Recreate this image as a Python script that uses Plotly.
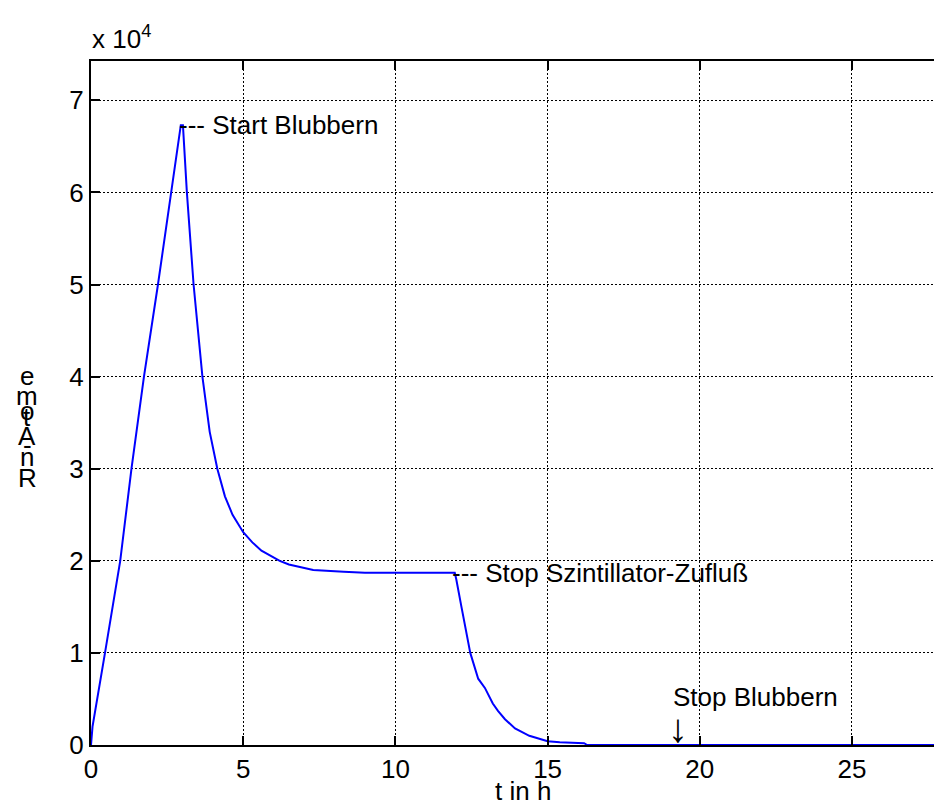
import plotly.graph_objects as go

# ---- data ----
t_hours = [0, 0.05, 0.46, 0.96, 1.33, 1.74, 2.2, 2.62, 2.95, 3.02, 3.15, 3.37,
           3.66, 3.9, 4.15, 4.4, 4.65, 5.0, 5.3, 5.6, 6.2, 6.5, 6.9, 7.3, 8.3,
           9.0, 11.95, 12.0, 12.17, 12.46, 12.72, 12.94, 13.2, 13.37, 13.6,
           13.93, 14.4, 15.0, 15.4, 16.2, 16.3, 28.3]
rn_atoms = [0, 2000, 10000, 20000, 30000, 40000, 50000, 60000, 67300, 67300,
            60000, 50000, 40000, 34000, 30000, 27000, 25000, 23100, 22000,
            21100, 20000, 19600, 19300, 19000, 18800, 18700, 18700, 18000,
            15000, 10000, 7200, 6200, 4500, 3700, 2800, 1800, 1000, 400, 300,
            200, 0, 0]
x_ticks = [0, 5, 10, 15, 20, 25]
y_ticks = [0, 10000, 20000, 30000, 40000, 50000, 60000, 70000]
y_tick_labels = ["0", "1", "2", "3", "4", "5", "6", "7"]
ylabel_text = "Rn-Atome"
ann_start = ("--- Start Blubbern", 3.02, 67300)
ann_stopzu = ("--- Stop Szintillator-Zufluß", 11.99, 18700)
ann_stopblub = ("Stop Blubbern", 19.05, 5200)
ann_arrow = ("↓", 19.28, 1800)

# ---- layout geometry (pixels) ----
W, H = 942, 805
L, R, T, B = 83, 0, 53, 68
PW, PH = W - L - R, H - T - B
FONT = "Liberation Sans, Arial, Helvetica, sans-serif"
FS = 26


def px_to_paper(px, py):
    return (px - L) / PW, (H - B - py) / PH


fig = go.Figure()
fig.add_trace(go.Scatter(x=t_hours, y=rn_atoms, mode="lines",
                         line=dict(color="#0000ff", width=2),
                         showlegend=False, hoverinfo="skip"))

axis_common = dict(showline=True, linecolor="black", linewidth=2,
                   ticks="inside", ticklen=9, tickwidth=2, tickcolor="black",
                   showgrid=True, gridcolor="black", gridwidth=1,
                   griddash="2px,2px", zeroline=False,
                   tickfont=dict(family=FONT, size=FS, color="black"))

fig.update_layout(
    width=W, height=H,
    margin=dict(l=L, r=R, t=T, b=B, pad=0),
    paper_bgcolor="white", plot_bgcolor="white",
    xaxis=dict(range=[0, 28.22], tickvals=x_ticks, mirror="ticks",
               **axis_common),
    yaxis=dict(range=[0, 74270], tickvals=y_ticks, ticktext=y_tick_labels,
               mirror=False, **axis_common),
    font=dict(family=FONT, size=FS, color="black"),
)

for text, x, y in (ann_start, ann_stopzu, ann_stopblub):
    fig.add_annotation(x=x, y=y, xref="x", yref="y", text=text,
                       showarrow=False, xanchor="left", yanchor="middle",
                       xshift=-6 if text.startswith("---") else 0,
                       font=dict(family=FONT, size=FS, color="black"))
fig.add_annotation(x=ann_arrow[1], y=ann_arrow[2], xref="x", yref="y",
                   text=ann_arrow[0], showarrow=False, xanchor="center",
                   yanchor="middle",
                   font=dict(family=FONT, size=40, color="black"))

# exponent label
ex, ey = px_to_paper(82, 30)
fig.add_annotation(x=ex, y=ey, xref="paper", yref="paper",
                   text="x 10<sup>4</sup>", showarrow=False,
                   xanchor="left", yanchor="middle",
                   font=dict(family=FONT, size=FS, color="black"))

# x-axis title
tx, ty = px_to_paper(515, 783)
fig.add_annotation(x=tx, y=ty, xref="paper", yref="paper", text="t in h",
                   showarrow=False, xanchor="center", yanchor="middle",
                   font=dict(family=FONT, size=FS, color="black"))

# y-axis label: characters stacked bottom-to-top, upright
char_centers = [470, 449, 437, 428, 409, 403, 388, 368]
for ch, cy in zip(ylabel_text, char_centers):
    cx_p, cy_p = px_to_paper(19, cy)
    fig.add_annotation(x=cx_p, y=cy_p, xref="paper", yref="paper", text=ch,
                       showarrow=False, xanchor="center", yanchor="middle",
                       font=dict(family=FONT, size=FS, color="black"))

fig.write_html("out.html")
